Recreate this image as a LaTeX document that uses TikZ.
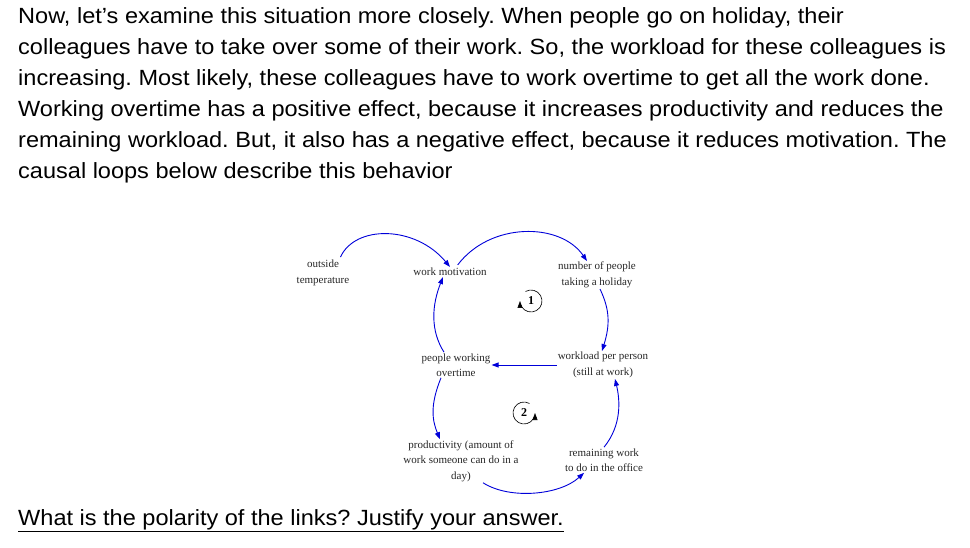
\documentclass[tikz,border=0pt]{standalone}
\usepackage{fontspec}
\setmainfont{Liberation Sans}[FakeStretch=1.07]
\newfontfamily\dfont{Liberation Serif}
\usetikzlibrary{arrows.meta}
\frenchspacing
\begin{document}
\begin{tikzpicture}[x=1pt,y=-1pt,
  lbl/.style={font=\dfont\fontsize{11}{15.5}\selectfont,align=center,inner sep=1pt,text=black!85},
  lnk/.style={draw=blue!85!black,line width=0.9pt,-{Triangle[length=7pt,width=5pt]}},
  para/.style={anchor=north west,align=left,inner sep=0pt,font=\fontsize{22}{31}\selectfont}]
\useasboundingbox (0,0) rectangle (970,548);
\node[para] (txt) at (18,7) {Now, let’s examine this situation more closely. When people go on holiday, their\\ colleagues have to take over some of their work. So, the workload for these colleagues is\\ increasing. Most likely, these colleagues have to work overtime to get all the work done.\\ Working overtime has a positive effect, because it increases productivity and reduces the\\ remaining workload. But, it also has a negative effect, because it reduces motivation. The\\ causal loops below describe this behavior};
\node[lbl] (ot) at (323,273) {outside\\temperature};
\node[lbl] (wm) at (450,272) {work motivation};
\node[lbl] (np) at (597,275) {number of people\\taking a holiday};
\node[lbl] (pw) at (456,365) {people working\\overtime};
\node[lbl] (wl) at (603,365) {workload per person\\(still at work)};
\node[lbl] (pr) at (461,461) {productivity (amount of\\work someone can do in a\\day)};
\node[lbl] (rw) at (604,460) {remaining work\\to do in the office};
\coordinate (c1) at (531,301);
\coordinate (c2) at (524,413);
\node[font=\dfont\bfseries\fontsize{12}{12}\selectfont] (n1) at (c1) {1};
\node[font=\dfont\bfseries\fontsize{12}{12}\selectfont] (n2) at (c2) {2};
\draw[line width=0.6pt,-{Triangle[length=7pt,width=5pt]}] ([shift={(-120:11)}]c1) arc[start angle=-120,end angle=180,radius=11];
\draw[line width=0.6pt,-{Triangle[length=7pt,width=5pt]}] ([shift={(-60:11)}]c2) arc[start angle=-60,end angle=-360,radius=11];
\draw[lnk] (ot.north east) ++(-10,-2) .. controls (355,225) and (415,225) .. (wm.north);
\draw[lnk] (wm.north east) ++(-30,-2) .. controls (490,222) and (560,222) .. ([xshift=-10pt]np.north);
\draw[lnk] ([xshift=3pt]np.south) .. controls (610,310) and (610,325) .. ([xshift=-1pt]wl.north);
\draw[lnk] (wl.west) -- (pw.east);
\draw[lnk] ([xshift=-12pt]pw.north) .. controls (430,330) and (432,305) .. ([xshift=-7pt]wm.south);
\draw[lnk] ([xshift=-15pt]pw.south) .. controls (430,405) and (432,420) .. ([xshift=-21pt]pr.north);
\draw[lnk] ([xshift=22pt]pr.south) .. controls (510,500) and (560,495) .. ([xshift=-20pt]rw.south);
\draw[lnk] ([xshift=0pt]rw.north) .. controls (622,425) and (620,400) .. ([xshift=12pt]wl.south);
\node[anchor=west,inner sep=0pt,font=\fontsize{22}{24}\selectfont] (q) at (18,521) {\underline{What is the polarity of the links? Justify your answer.}};
\end{tikzpicture}
\end{document}
